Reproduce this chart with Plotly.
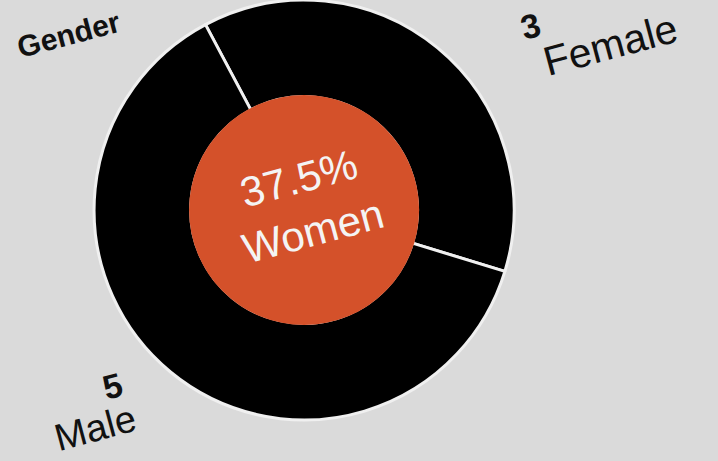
import plotly.graph_objects as go

labels = ["Female", "Male"]
values = [3, 5]
title_text = "Gender"
center_word = "Women"

total = sum(values)
pct = values[0] / total * 100

W, H = 718, 461
bg = "#dadada"
FONT = "Liberation Sans, Arial"

fig = go.Figure()
fig.add_trace(go.Pie(
    labels=labels, values=values, hole=0.54, sort=False,
    direction="clockwise", rotation=-28,
    marker=dict(colors=["#000000", "#000000"], line=dict(color="#f0f0f0", width=3)),
    textinfo="none", hoverinfo="label+value", showlegend=False,
    domain=dict(x=[0.131, 0.716], y=[0.089, 1.0]),
))
fig.add_trace(go.Pie(
    labels=[center_word], values=[1], hole=0, sort=False,
    marker=dict(colors=["#d4512a"], line=dict(width=0)),
    textinfo="none", hoverinfo="skip", showlegend=False,
    domain=dict(x=[0.263, 0.584], y=[0.295, 0.794]),
))

def ann(x, y, text, size, bold=False, color="#111111"):
    fig.add_annotation(x=x / W, y=1 - y / H, xref="paper", yref="paper",
                       xanchor="center", yanchor="middle",
                       text=f"<b>{text}</b>" if bold else text, showarrow=False,
                       textangle=-15, font=dict(family=FONT, size=size, color=color))

ann(306, 205, f"{pct:.1f}%<br>{center_word}", 42, color="#f4f4f4")
ann(530, 26, str(values[0]), 34, bold=True)
ann(610, 45, labels[0], 41)
ann(112, 386, str(values[1]), 34, bold=True)
ann(95, 428, labels[1], 38)
ann(68, 34, title_text, 30, bold=True)

fig.update_layout(width=W, height=H, margin=dict(l=0, r=0, t=0, b=0),
                  paper_bgcolor=bg, plot_bgcolor=bg)
fig.write_html("out.html")
